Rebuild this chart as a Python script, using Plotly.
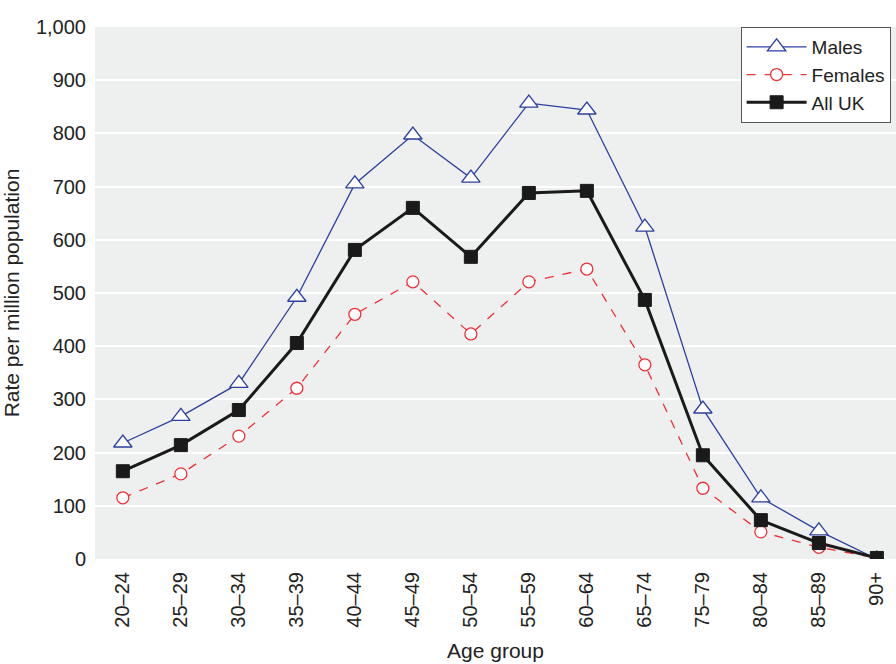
import plotly.graph_objects as go

age_groups = ["20–24", "25–29", "30–34", "35–39", "40–44", "45–49", "50–54",
              "55–59", "60–64", "65–74", "75–79", "80–84", "85–89", "90+"]
males = [218, 268, 330, 492, 705, 797, 716, 857, 844, 624, 282, 115, 53, 0]
females = [115, 160, 231, 321, 460, 521, 423, 521, 545, 365, 133, 51, 22, 2]
all_uk = [165, 214, 280, 406, 581, 660, 568, 688, 692, 487, 195, 73, 30, 2]

x_idx = list(range(len(age_groups)))
font_family = "Liberation Sans, Arial, sans-serif"

fig = go.Figure()
fig.add_trace(go.Scatter(
    x=x_idx, y=males, name="Males", mode="lines+markers",
    line=dict(color="#2b3fa0", width=1.3),
    marker=dict(symbol="triangle-up", size=16, color="white",
                line=dict(color="#2b3fa0", width=1.3)),
))
fig.add_trace(go.Scatter(
    x=x_idx, y=females, name="Females", mode="lines+markers",
    line=dict(color="#f03038", width=1.3, dash="dash"),
    marker=dict(symbol="circle", size=12, color="white",
                line=dict(color="#f03038", width=1.3)),
))
fig.add_trace(go.Scatter(
    x=x_idx, y=all_uk, name="All UK", mode="lines+markers",
    line=dict(color="#1a1a1a", width=3),
    marker=dict(symbol="square", size=13, color="#1a1a1a",
                line=dict(color="#1a1a1a", width=1)),
))

fig.update_layout(
    width=896, height=664,
    margin=dict(l=95, r=0, t=27, b=105),
    paper_bgcolor="white",
    plot_bgcolor="#eef0ef",
    font=dict(family=font_family, size=20, color="#222222"),
    showlegend=True,
    legend=dict(
        x=0.806, y=1.0, xanchor="left", yanchor="top",
        bgcolor="white", bordercolor="#555555", borderwidth=1,
        font=dict(size=19, color="#222222"),
        tracegroupgap=0, itemwidth=60,
    ),
    xaxis=dict(
        tickmode="array", tickvals=x_idx, ticktext=age_groups,
        tickangle=-90, range=[-0.48, 13.33],
        showgrid=False, zeroline=False, showline=False,
        ticks="", ticklen=0, ticklabelstandoff=8,
        tickfont=dict(size=20),
        title=dict(text="Age group", font=dict(size=21), standoff=16),
    ),
    yaxis=dict(
        range=[0, 1000], tickvals=list(range(0, 1001, 100)),
        tickformat=",", showgrid=True, gridcolor="white", gridwidth=2,
        zeroline=False, showline=False, ticks="", ticklabelstandoff=8,
        tickfont=dict(size=20),
        title=dict(text="Rate per million population", font=dict(size=21), standoff=12),
    ),
)

fig.write_html("out.html")
